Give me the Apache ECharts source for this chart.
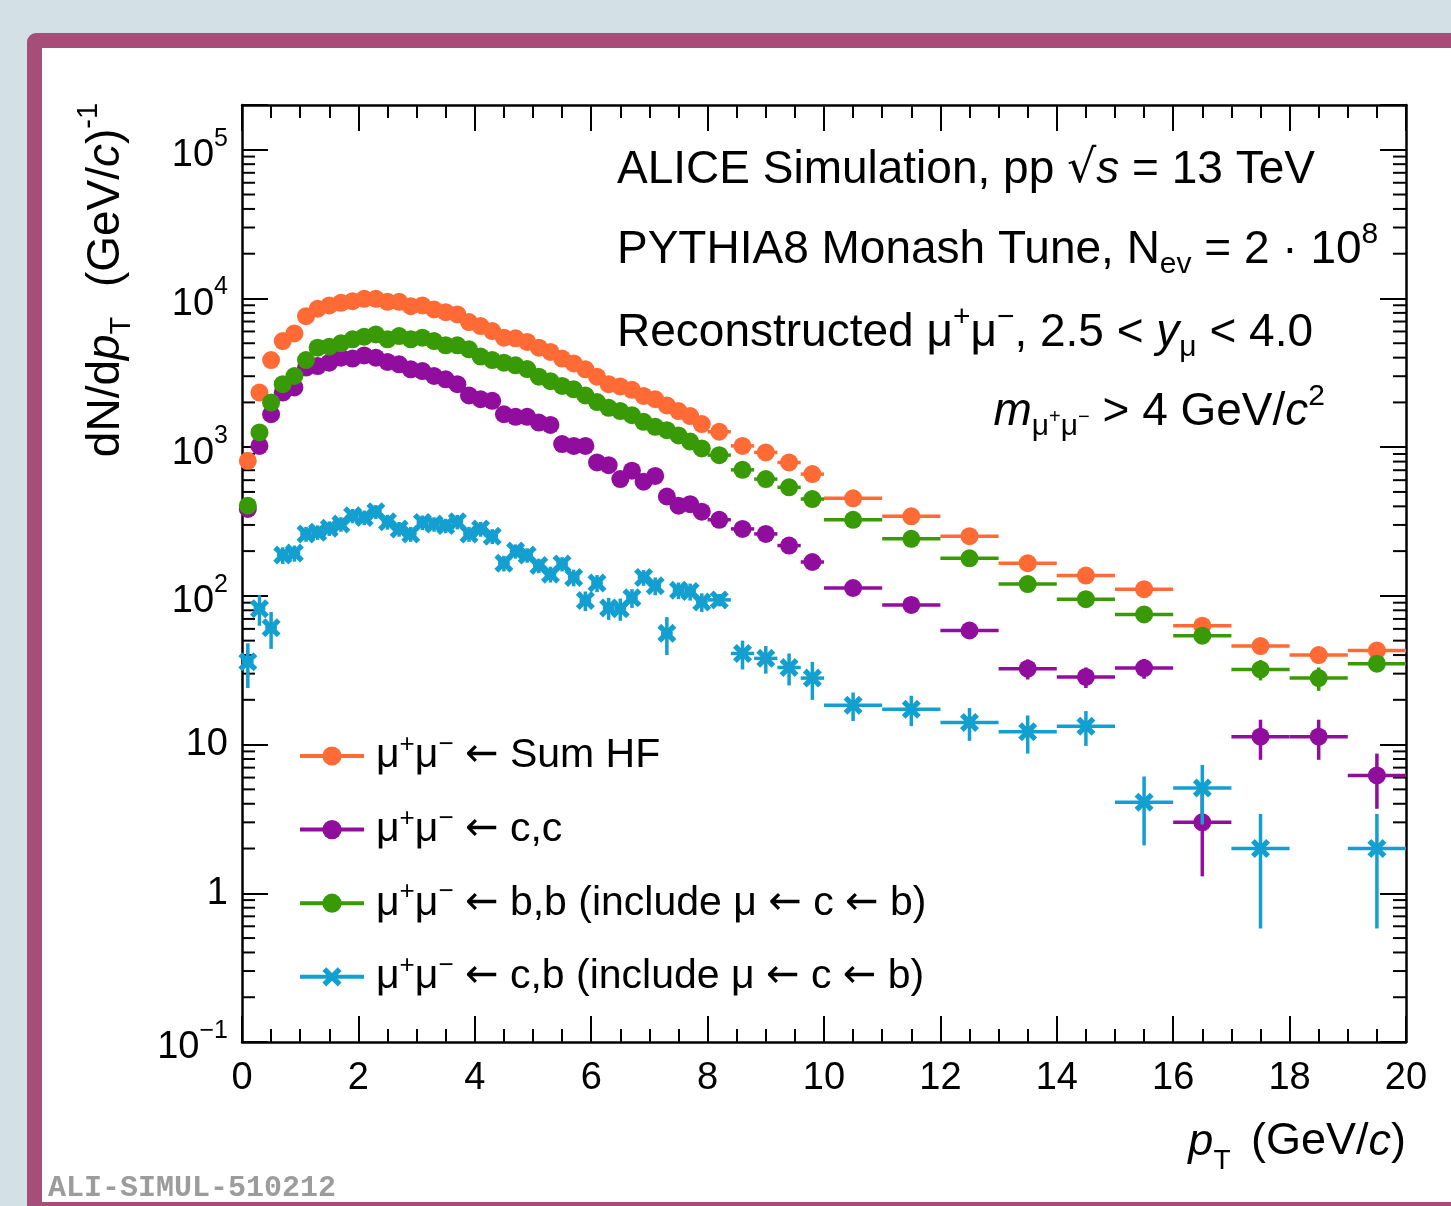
<!DOCTYPE html>
<html>
<head>
<meta charset="utf-8">
<script src="https://cdn.jsdelivr.net/npm/echarts@6/dist/echarts.min.js"></script>
<style>
  html, body { margin: 0; padding: 0; width: 1451px; height: 1206px; overflow: hidden; background: #d3e0e5; }
  #frame { position: absolute; left: 27px; top: 33px; width: 1440px; height: 1190px; background: #a64d79; border-radius: 9px 0 0 0; }
  #inner { position: absolute; left: 42px; top: 48px; width: 1420px; height: 1154px; background: #fff; }
  #chart { position: absolute; left: 0; top: 0; width: 1451px; height: 1206px; }
</style>
</head>
<body>
<div id="frame"></div>
<div id="inner"></div>
<div id="chart"></div>
<script>
  "use strict";

  // pT bin centres and half widths (GeV/c)
  var ptBins = [
    0.1, 0.3, 0.5, 0.7, 0.9, 1.1, 1.3, 1.5, 1.7, 1.9,
    2.1, 2.3, 2.5, 2.7, 2.9, 3.1, 3.3, 3.5, 3.7, 3.9,
    4.1, 4.3, 4.5, 4.7, 4.9, 5.1, 5.3, 5.5, 5.7, 5.9,
    6.1, 6.3, 6.5, 6.7, 6.9, 7.1, 7.3, 7.5, 7.7, 7.9,
    8.2, 8.6, 9.0, 9.4, 9.8,
    10.5, 11.5, 12.5, 13.5, 14.5, 15.5, 16.5, 17.5, 18.5, 19.5
  ];
  var ptHalfWidth = [
    0.1, 0.1, 0.1, 0.1, 0.1, 0.1, 0.1, 0.1, 0.1, 0.1,
    0.1, 0.1, 0.1, 0.1, 0.1, 0.1, 0.1, 0.1, 0.1, 0.1,
    0.1, 0.1, 0.1, 0.1, 0.1, 0.1, 0.1, 0.1, 0.1, 0.1,
    0.1, 0.1, 0.1, 0.1, 0.1, 0.1, 0.1, 0.1, 0.1, 0.1,
    0.2, 0.2, 0.2, 0.2, 0.2,
    0.5, 0.5, 0.5, 0.5, 0.5, 0.5, 0.5, 0.5, 0.5, 0.5
  ];

  // mu+mu- <- Sum HF
  var sumHF = [
    809, 2330, 3850, 5170, 5820, 7600, 8530, 8980, 9350, 9590,
    9950, 9950, 9500, 9500, 8870, 8980, 8430, 8090, 7810, 6940,
    6520, 6040, 5450, 5400, 5100, 4670, 4370, 3940, 3660, 3340,
    2980, 2650, 2560, 2430, 2210, 2100, 1910, 1750, 1620, 1430,
    1270, 1020, 922, 789, 659,
    453, 343, 252, 166, 137, 111, 63, 46, 40, 43
  ];
  var sumHFErr = [
    0, 0, 0, 0, 0, 0, 0, 0, 0, 0,
    0, 0, 0, 0, 0, 0, 0, 0, 0, 0,
    0, 0, 0, 0, 0, 0, 0, 0, 0, 0,
    0, 0, 0, 0, 0, 0, 0, 0, 0, 0,
    0, 0, 0, 0, 0,
    8, 7, 6, 5, 5, 4.5, 4, 5, 5, 5
  ];

  // mu+mu- <- c,c
  var charmCharm = [
    384, 1020, 1665, 2330, 2520, 3430, 3510, 3700, 4000, 3940,
    4140, 4000, 3740, 3610, 3340, 3250, 3010, 2860, 2650, 2230,
    2100, 2050, 1665, 1600, 1600, 1465, 1410, 1050, 1020, 1020,
    789, 757, 610, 695, 586, 641, 466, 404, 414, 368,
    325, 282, 261, 218, 169,
    113, 87, 58.5, 32.4, 28.5, 32.7, 3.0, 11.3, 11.3, 6.2
  ];
  var charmCharmErr = [
    0, 0, 0, 0, 0, 0, 0, 0, 0, 0,
    0, 0, 0, 0, 0, 0, 0, 0, 0, 0,
    0, 0, 0, 0, 0, 0, 0, 0, 0, 0,
    0, 0, 0, 0, 0, 0, 0, 0, 0, 0,
    0, 0, 0, 0, 0,
    5, 4, 3, 5, 4.5, 5, 1.7, 3.4, 3.4, 2.5
  ];

  // mu+mu- <- b,b (include mu <- c <- b)
  var beautyBeauty = [
    404, 1256, 1995, 2650, 3010, 3850, 4670, 4740, 4990, 5310,
    5530, 5730, 5310, 5590, 5310, 5450, 5170, 4840, 4840, 4550,
    4070, 3850, 3700, 3550, 3350, 2980, 2780, 2580, 2450, 2230,
    2010, 1840, 1750, 1640, 1480, 1370, 1300, 1200, 1090, 980,
    884, 704, 610, 537, 448,
    325, 242, 179, 120, 95, 75, 54, 32, 28, 35
  ];
  var beautyBeautyErr = [
    0, 0, 0, 0, 0, 0, 0, 0, 0, 0,
    0, 0, 0, 0, 0, 0, 0, 0, 0, 0,
    0, 0, 0, 0, 0, 0, 0, 0, 0, 0,
    0, 0, 0, 0, 0, 0, 0, 0, 0, 0,
    0, 0, 0, 0, 0,
    7, 6, 5, 4, 3.5, 3, 4, 5, 5, 4
  ];

  // mu+mu- <- c,b (include mu <- c <- b)
  var charmBeauty = [
    36, 82, 61, 188, 194, 261, 268, 285, 304, 346,
    337, 368, 315, 282, 261, 312, 304, 297, 315, 261,
    282, 252, 166, 200, 188, 160, 140, 164, 133, 93,
    122, 83, 82, 97, 133, 117, 56, 109, 107, 91,
    94, 41, 38, 33, 28,
    18.4, 17.3, 14.1, 12.2, 13.3, 4.1, 5.1, 2.0, null, 2.0
  ];
  var charmBeautyErr = [
    12, 19, 17, 24, 24, 30, 30, 32, 34, 38,
    38, 40, 36, 32, 30, 35, 34, 33, 35, 30,
    32, 29, 20, 22, 21, 18, 17, 18, 17, 14,
    16, 14, 14, 14, 16, 16, 16, 14, 14, 13,
    9, 9, 8, 8, 8,
    4, 4, 3.5, 3.5, 3.5, 2, 2.2, 1.42, 0, 1.42
  ];

  var seriesNames = ['sumHF', 'cc', 'bb', 'cb'];
  var seriesColors = ['#ff6a35', '#910d9e', '#389a06', '#139fd0'];
  var legendTexts = [
    '{m|μ}{p|+}{m|μ}{p|−} {a|←} Sum HF',
    '{m|μ}{p|+}{m|μ}{p|−} {a|←} c,c',
    '{m|μ}{p|+}{m|μ}{p|−} {a|←} b,b (include μ {a|←} c {a|←} b)',
    '{m|μ}{p|+}{m|μ}{p|−} {a|←} c,b (include μ {a|←} c {a|←} b)'
  ];

  // y tick labels at the decades
  var yDecades = [-1, 0, 1, 2, 3, 4, 5];
  var yDecadeLabels = ['{b|10}{s|−1}', '{n|1}', '{n|10}', '{b|10}{s|2}', '{b|10}{s|3}', '{b|10}{s|4}', '{b|10}{s|5}'];

  var xMin = 0, xMax = 20, yMin = 0.1, yMax = 2e5;
  var FONT = 'Liberation Sans, Arial, Helvetica, sans-serif';
  var cross = 'path://M2,0L5,3L8,0L10,2L7,5L10,8L8,10L5,7L2,10L0,8L3,5L0,2Z';

  var myChart = echarts.init(document.getElementById('chart'), null, {renderer: 'canvas'});

  function markerData(vals) {
    var out = [];
    ptBins.forEach(function (p, i) {
      if (vals[i] != null) out.push([p, vals[i]]);
    });
    return out;
  }

  function errorData(vals, errs) {
    var out = [];
    ptBins.forEach(function (p, i) {
      if (vals[i] != null) out.push([p, vals[i], ptHalfWidth[i], errs[i]]);
    });
    return out;
  }

  function errorBarRender(color) {
    return function (params, api) {
      var x = api.value(0), y = api.value(1), xe = api.value(2), ye = api.value(3);
      var c = api.coord([x, y]);
      var l = api.coord([x - xe, y]);
      var r = api.coord([x + xe, y]);
      var top = api.coord([x, Math.min(y + ye, yMax)]);
      var bot = api.coord([x, Math.max(y - ye, yMin)]);
      var st = {stroke: color, lineWidth: 3.5};
      return {
        type: 'group',
        children: [
          {type: 'line', shape: {x1: l[0], y1: c[1], x2: r[0], y2: c[1]}, style: st},
          {type: 'line', shape: {x1: c[0], y1: top[1], x2: c[0], y2: bot[1]}, style: st}
        ]
      };
    };
  }

  // minor ticks of the log axis, 2..9 per decade (left and right edges)
  var yMinorTicks = [];
  yDecades.forEach(function (k) {
    for (var m = 2; m <= 9; m++) {
      var v = m * Math.pow(10, k);
      if (v < yMax) yMinorTicks.push([xMin, v]);
    }
  });

  var valuesList = [sumHF, charmCharm, beautyBeauty, charmBeauty];
  var errsList = [sumHFErr, charmCharmErr, beautyBeautyErr, charmBeautyErr];
  var symbols = ['circle', 'circle', 'circle', cross];

  var series = [{
    type: 'custom',
    name: 'minorTicks',
    silent: true,
    data: yMinorTicks,
    encode: {x: 0, y: 1},
    renderItem: function (params, api) {
      var a = api.coord([xMin, api.value(1)]);
      var b = api.coord([xMax, api.value(1)]);
      var st = {stroke: '#000', lineWidth: 2};
      return {
        type: 'group',
        children: [
          {type: 'line', shape: {x1: a[0], y1: a[1], x2: a[0] + 13, y2: a[1]}, style: st},
          {type: 'line', shape: {x1: b[0], y1: b[1], x2: b[0] - 13, y2: b[1]}, style: st}
        ]
      };
    },
    z: 1
  }];

  // draw order as in the original: Sum HF, c c, b b, c b
  [0, 1, 2, 3].forEach(function (i) {
    series.push({
      type: 'custom',
      name: seriesNames[i] + 'Err',
      silent: true,
      clip: true,
      data: errorData(valuesList[i], errsList[i]),
      encode: {x: 0, y: 1},
      renderItem: errorBarRender(seriesColors[i]),
      z: 2 + i * 2
    });
    series.push({
      type: 'line',
      name: seriesNames[i],
      silent: true,
      data: markerData(valuesList[i]),
      symbol: symbols[i],
      symbolSize: i === 3 ? 19 : 18,
      showSymbol: true,
      showAllSymbol: true,
      lineStyle: {opacity: 0, width: 0},
      itemStyle: {color: seriesColors[i]},
      z: 3 + i * 2
    });
  });

  var axisBase = {
    axisLine: {show: true, onZero: false, lineStyle: {color: '#000', width: 2.5}},
    splitLine: {show: false},
    minorSplitLine: {show: false}
  };

  var option = {
    animation: false,
    backgroundColor: 'transparent',
    grid: {left: 242, right: 45, top: 105, bottom: 164, outerBoundsMode: 'none'},
    xAxis: [
      Object.assign({
        type: 'value', position: 'bottom', min: xMin, max: xMax, interval: 2,
        axisTick: {inside: true, length: 26, lineStyle: {color: '#000', width: 2}},
        minorTick: {show: true, splitNumber: 4, length: 13, lineStyle: {color: '#000', width: 2}},
        axisLabel: {color: '#000', fontFamily: FONT, fontSize: 38, margin: 18}
      }, axisBase),
      Object.assign({
        type: 'value', position: 'top', min: xMin, max: xMax, interval: 2,
        axisTick: {inside: true, length: 26, lineStyle: {color: '#000', width: 2}},
        minorTick: {show: true, splitNumber: 4, length: 13, lineStyle: {color: '#000', width: 2}},
        axisLabel: {show: false}
      }, axisBase)
    ],
    yAxis: [
      Object.assign({
        type: 'log', logBase: 10, position: 'left', min: yMin, max: yMax, splitNumber: 5,
        axisTick: {inside: true, length: 26, lineStyle: {color: '#000', width: 2}},
        axisLabel: {
          margin: 14,
          formatter: function (v) {
            var k = Math.round(Math.log10(v));
            if (Math.abs(Math.log10(v) - k) > 1e-6) return '';
            var idx = yDecades.indexOf(k);
            return idx < 0 ? '' : yDecadeLabels[idx];
          },
          rich: {
            n: {fontFamily: FONT, fontSize: 38, color: '#000'},
            b: {fontFamily: FONT, fontSize: 38, color: '#000', padding: [12, 0, 0, 0]},
            s: {fontFamily: FONT, fontSize: 25, color: '#000', padding: [0, 0, 22, 0]}
          }
        }
      }, axisBase),
      Object.assign({
        type: 'log', logBase: 10, position: 'right', min: yMin, max: yMax, splitNumber: 5,
        axisTick: {inside: true, length: 26, lineStyle: {color: '#000', width: 2}},
        axisLabel: {show: false}
      }, axisBase)
    ],
    legend: {
      orient: 'vertical',
      left: 298,
      top: 732,
      padding: 0,
      itemWidth: 64,
      itemHeight: 24,
      itemGap: 25.6,
      selectedMode: false,
      data: seriesNames,
      lineStyle: {width: 4, opacity: 1},
      formatter: function (name) {
        return legendTexts[seriesNames.indexOf(name)];
      },
      textStyle: {
        fontFamily: FONT, fontSize: 41, color: '#000', lineHeight: 24, padding: [0, 0, 0, 7],
        rich: {
          m: {fontFamily: FONT, fontSize: 41, color: '#000', lineHeight: 24},
          a: {fontFamily: 'DejaVu Sans', fontSize: 40, color: '#000', lineHeight: 24},
          p: {fontFamily: FONT, fontSize: 26, color: '#000', lineHeight: 24, padding: [0, 0, 22, 0]}
        }
      }
    },
    graphic: [
      {
        type: 'text', x: 617, y: 170, silent: true,
        style: {
          text: 'ALICE Simulation, pp {r|√}{i|s} = 13 TeV',
          fontFamily: FONT, fontSize: 46, fill: '#000', align: 'left', verticalAlign: 'middle',
          rich: {
            i: {fontFamily: FONT, fontSize: 46, fontStyle: 'italic', fill: '#000'},
            r: {fontFamily: 'DejaVu Sans', fontSize: 46, fill: '#000'}
          }
        }
      },
      {
        type: 'text', x: 617, y: 250, silent: true,
        style: {
          text: 'PYTHIA8 Monash Tune, N{d|ev} = 2 · 10{u|8}',
          fontFamily: FONT, fontSize: 46, fill: '#000', align: 'left', verticalAlign: 'middle',
          rich: {
            d: {fontFamily: FONT, fontSize: 30, fill: '#000', padding: [30, 0, 0, 0]},
            u: {fontFamily: FONT, fontSize: 30, fill: '#000', padding: [0, 0, 30, 0]}
          }
        }
      },
      {
        type: 'text', x: 617, y: 333, silent: true,
        style: {
          text: 'Reconstructed μ{u|+}μ{u|−}, 2.5 < {i|y}{d|μ} < 4.0',
          fontFamily: FONT, fontSize: 46, fill: '#000', align: 'left', verticalAlign: 'middle',
          rich: {
            i: {fontFamily: FONT, fontSize: 46, fontStyle: 'italic', fill: '#000'},
            d: {fontFamily: FONT, fontSize: 30, fill: '#000', padding: [30, 0, 0, 0]},
            u: {fontFamily: FONT, fontSize: 30, fill: '#000', padding: [0, 0, 30, 0]}
          }
        }
      },
      {
        type: 'text', x: 1325, y: 412, silent: true,
        style: {
          text: '{i|m}{d|μ}{dd|+}{d|μ}{dd|−} > 4 GeV/{i|c}{u|2}',
          fontFamily: FONT, fontSize: 46, fill: '#000', align: 'right', verticalAlign: 'middle',
          rich: {
            i: {fontFamily: FONT, fontSize: 46, fontStyle: 'italic', fill: '#000'},
            d: {fontFamily: FONT, fontSize: 30, fill: '#000', padding: [30, 0, 0, 0]},
            dd: {fontFamily: FONT, fontSize: 20, fill: '#000', padding: [10, 0, 0, 0]},
            u: {fontFamily: FONT, fontSize: 30, fill: '#000', padding: [0, 0, 30, 0]}
          }
        }
      },
      {
        type: 'text', x: 106, y: 280, rotation: Math.PI / 2, silent: true,
        style: {
          text: 'dN/d{i|p}{d|T}  (GeV/{i|c}){u|-1}',
          fontFamily: FONT, fontSize: 46, fill: '#000', align: 'center', verticalAlign: 'middle',
          rich: {
            i: {fontFamily: FONT, fontSize: 46, fontStyle: 'italic', fill: '#000'},
            d: {fontFamily: FONT, fontSize: 29, fill: '#000', padding: [32, 4, 0, 0]},
            u: {fontFamily: FONT, fontSize: 29, fill: '#000', padding: [0, 0, 34, 0]}
          }
        }
      },
      {
        type: 'text', x: 1406, y: 1142, silent: true,
        style: {
          text: '{i|p}{d|T} (GeV/{i|c})',
          fontFamily: FONT, fontSize: 45, fill: '#000', align: 'right', verticalAlign: 'middle',
          rich: {
            i: {fontFamily: FONT, fontSize: 45, fontStyle: 'italic', fill: '#000'},
            d: {fontFamily: FONT, fontSize: 28, fill: '#000', padding: [38, 8, 0, 0]}
          }
        }
      },
      {
        type: 'text', x: 48, y: 1188, silent: true,
        style: {
          text: 'ALI-SIMUL-510212',
          fontFamily: 'Liberation Mono, DejaVu Sans Mono, monospace', fontWeight: 'bold', fontSize: 30,
          fill: '#9c9c9c', align: 'left', verticalAlign: 'middle'
        }
      }
    ],
    series: series
  };

  myChart.setOption(option);
</script>
</body>
</html>
